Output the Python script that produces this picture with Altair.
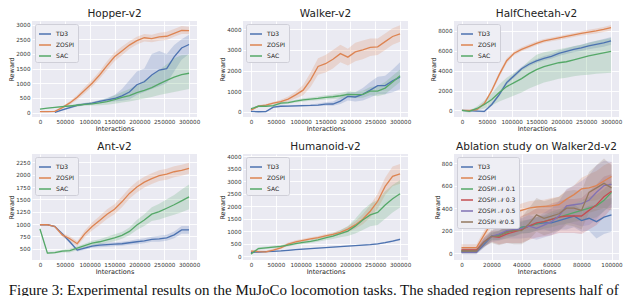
import altair as alt
import pandas as pd

FONT = "DejaVu Sans"
BLUE, ORANGE, GREEN, RED, PURPLE, BROWN = "#4C72B0", "#DD8452", "#55A868", "#C44E52", "#8172B3", "#937860"

X300 = [0, 15000, 30000, 45000, 60000, 75000, 90000, 105000, 120000, 135000, 150000,
        165000, 180000, 195000, 210000, 225000, 240000, 255000, 270000, 285000, 300000]
X100 = [0, 5000, 10000, 15000, 20000, 25000, 30000, 35000, 40000, 45000, 50000,
        55000, 60000, 65000, 70000, 75000, 80000, 85000, 90000, 95000, 100000]

# ---------------- Hopper-v2 ----------------
hopper_td3 = [None, None, 10, 90, 170, 250, 290, 320, 380, 430, 480, 570, 700, 950, 1050, 1280, 1450, 1500, 1900, 2200, 2320]
hopper_td3_lo = [None, None, 0, 60, 130, 210, 250, 280, 330, 360, 380, 400, 450, 600, 700, 800, 900, 1000, 1400, 1800, 2000]
hopper_td3_hi = [None, None, 20, 120, 210, 290, 330, 360, 430, 500, 600, 800, 1100, 1400, 1500, 2000, 2100, 2000, 2300, 2500, 2650]
hopper_zospi = [30, 30, 40, 170, 330, 520, 760, 1000, 1280, 1600, 1900, 2100, 2300, 2450, 2550, 2520, 2580, 2600, 2700, 2800, 2790]
hopper_zospi_lo = [10, 10, 20, 130, 270, 440, 650, 880, 1150, 1450, 1750, 1950, 2170, 2320, 2420, 2400, 2450, 2470, 2580, 2680, 2680]
hopper_zospi_hi = [50, 50, 60, 210, 390, 600, 870, 1120, 1410, 1750, 2050, 2250, 2430, 2580, 2680, 2650, 2720, 2750, 2850, 2950, 2920]
hopper_sac = [120, 150, 175, 200, 225, 250, 280, 300, 330, 370, 440, 520, 580, 680, 760, 850, 980, 1100, 1210, 1290, 1340]
hopper_sac_lo = [110, 140, 160, 170, 190, 210, 230, 240, 250, 270, 300, 340, 380, 430, 480, 530, 600, 650, 700, 750, 800]
hopper_sac_hi = [130, 160, 190, 230, 260, 290, 330, 360, 410, 480, 580, 700, 800, 950, 1100, 1250, 1450, 1650, 1850, 1950, 1970]

# ---------------- Walker-v2 ----------------
walker_td3 = [20, 5, 10, 230, 270, 280, 290, 300, 310, 330, 370, 380, 520, 750, 720, 850, 1050, 1270, 1270, 1500, 1680]
walker_td3_lo = [0, 0, 0, 180, 230, 240, 250, 260, 270, 280, 300, 290, 380, 550, 500, 550, 700, 850, 850, 950, 1100]
walker_td3_hi = [40, 20, 30, 280, 310, 320, 330, 340, 360, 400, 470, 500, 700, 950, 950, 1150, 1450, 1700, 1750, 2050, 2400]
walker_zospi = [80, 280, 330, 420, 500, 620, 820, 1050, 1550, 2200, 2330, 2550, 2820, 2650, 2900, 3000, 3120, 3150, 3400, 3650, 3780]
walker_zospi_lo = [50, 230, 280, 360, 420, 500, 650, 800, 1200, 1800, 1900, 2100, 2400, 2250, 2450, 2550, 2700, 2750, 3000, 3250, 3400]
walker_zospi_hi = [110, 330, 380, 480, 580, 740, 990, 1300, 1900, 2600, 2750, 3000, 3250, 3050, 3350, 3450, 3550, 3550, 3800, 4050, 4200]
walker_sac = [150, 270, 270, 300, 420, 450, 520, 580, 620, 650, 700, 730, 780, 850, 830, 850, 1000, 1000, 1150, 1450, 1750]
walker_sac_lo = [100, 220, 230, 250, 360, 390, 450, 500, 540, 560, 600, 620, 650, 700, 670, 680, 800, 750, 850, 1150, 1450]
walker_sac_hi = [200, 320, 310, 350, 480, 510, 590, 660, 700, 740, 800, 840, 910, 1000, 990, 1020, 1200, 1250, 1450, 1750, 2050]

# ---------------- HalfCheetah-v2 ----------------
cheetah_td3 = [0, -20, -60, -100, 600, 1600, 2800, 3500, 4200, 4650, 4980, 5250, 5450, 5750, 5950, 6150, 6300, 6500, 6650, 6800, 7000]
cheetah_td3_sd = [50, 50, 80, 100, 150, 200, 200, 200, 200, 200, 200, 220, 240, 260, 280, 300, 320, 340, 360, 380, 400]
cheetah_zospi = [0, 0, 80, 700, 2000, 3600, 5000, 5750, 6150, 6450, 6750, 7000, 7150, 7300, 7450, 7600, 7750, 7880, 8000, 8150, 8330]
cheetah_zospi_sd = [50, 50, 80, 150, 200, 250, 250, 200, 200, 200, 200, 200, 200, 200, 200, 200, 220, 250, 250, 250, 280]
cheetah_sac = [0, -100, 200, 600, 1100, 1800, 2400, 2800, 3200, 3700, 4100, 4400, 4600, 4800, 4900, 5100, 5300, 5500, 5650, 5800, 5950]
cheetah_sac_lo = [-100, -200, 0, 200, 500, 900, 1200, 1500, 1800, 2200, 2500, 2800, 3000, 3200, 3300, 3450, 3550, 3600, 3700, 3750, 3800]
cheetah_sac_hi = [100, 0, 400, 1000, 1700, 2600, 3300, 3800, 4300, 5000, 5600, 5850, 6000, 6150, 6300, 6450, 6600, 6800, 7000, 7150, 7300]

# ---------------- Ant-v2 ----------------
ant_td3 = [985, 985, 950, 800, 640, 470, 510, 550, 570, 580, 590, 600, 620, 640, 660, 690, 700, 720, 780, 880, 880]
ant_td3_sd = [10, 10, 20, 30, 30, 30, 30, 30, 40, 40, 40, 40, 40, 50, 50, 50, 60, 60, 70, 80, 80]
ant_zospi = [985, 985, 950, 780, 700, 600, 800, 950, 1070, 1200, 1300, 1450, 1620, 1750, 1850, 1920, 1980, 2010, 2060, 2090, 2130]
ant_zospi_sd = [10, 10, 20, 40, 50, 50, 70, 80, 90, 100, 100, 110, 110, 110, 110, 110, 110, 110, 110, 110, 110]
ant_sac = [900, 410, 420, 450, 460, 510, 560, 610, 640, 680, 720, 770, 850, 980, 1080, 1200, 1250, 1320, 1390, 1470, 1550]
ant_sac_sd = [30, 20, 20, 30, 40, 40, 40, 50, 50, 60, 70, 70, 80, 100, 120, 140, 160, 180, 200, 230, 250]

# ---------------- Humanoid-v2 ----------------
hum_td3 = [150, 160, 175, 190, 205, 230, 260, 280, 300, 320, 340, 360, 380, 400, 420, 440, 460, 490, 540, 600, 670]
hum_td3_sd = [20, 20, 20, 20, 20, 20, 20, 20, 20, 20, 20, 20, 20, 20, 20, 20, 20, 25, 30, 35, 40]
hum_zospi = [200, 180, 170, 240, 330, 480, 570, 630, 690, 740, 810, 870, 950, 1080, 1250, 1480, 1800, 2200, 2800, 3200, 3300]
hum_zospi_sd = [50, 50, 50, 50, 50, 60, 60, 60, 60, 60, 70, 80, 90, 120, 150, 200, 250, 300, 350, 400, 400]
hum_sac = [80, 300, 330, 360, 390, 440, 500, 550, 590, 650, 730, 800, 900, 1000, 1200, 1450, 1650, 1750, 2050, 2300, 2500]
hum_sac_sd = [50, 50, 50, 50, 50, 60, 60, 70, 70, 80, 100, 120, 150, 200, 300, 400, 450, 500, 550, 550, 550]

# ---------------- Ablation study on Walker2d-v2 ----------------
abl_td3 = [10, 10, 10, 80, 150, 160, 190, 200, 230, 240, 260, 270, 270, 290, 310, 330, 290, 310, 280, 320, 340]
abl_td3_sd = [10, 10, 10, 30, 30, 40, 40, 50, 50, 60, 60, 60, 80, 80, 100, 100, 100, 110, 150, 150, 150]
abl_zospi = [50, 50, 50, 160, 270, 310, 340, 360, 380, 400, 410, 415, 420, 430, 480, 520, 570, 580, 600, 640, 680]
abl_zospi_sd = [30, 30, 30, 40, 40, 50, 50, 50, 60, 60, 60, 60, 70, 70, 80, 80, 100, 120, 130, 140, 130]
abl_n01 = [20, 20, 20, 90, 150, 160, 180, 210, 230, 240, 260, 280, 300, 320, 340, 360, 380, 400, 420, 470, 540]
abl_n01_sd = [20, 20, 20, 30, 40, 40, 50, 60, 60, 60, 60, 60, 70, 70, 80, 80, 90, 100, 100, 100, 100]
abl_n03 = [30, 30, 30, 100, 150, 140, 170, 190, 210, 240, 270, 280, 300, 320, 330, 330, 330, 380, 430, 500, 550]
abl_n03_sd = [20, 20, 20, 40, 50, 60, 80, 100, 120, 120, 130, 130, 140, 140, 150, 150, 160, 170, 180, 180, 150]
abl_n05 = [10, 10, 10, 90, 150, 170, 200, 210, 220, 240, 220, 250, 280, 330, 420, 430, 440, 470, 540, 600, 610]
abl_n05_sd = [20, 20, 20, 40, 50, 60, 70, 80, 90, 100, 100, 110, 120, 130, 150, 170, 200, 220, 240, 220, 200]
abl_u05 = [20, 20, 20, 100, 150, 150, 190, 200, 200, 260, 340, 310, 330, 350, 400, 400, 380, 540, 580, 620, 580]
abl_u05_sd = [20, 20, 20, 40, 60, 80, 100, 120, 120, 140, 150, 150, 150, 150, 150, 160, 170, 180, 200, 220, 200]

MAIN_NAMES = ["TD3", "ZOSPI", "SAC"]
MAIN_COLORS = [BLUE, ORANGE, GREEN]
ABL_NAMES = ["TD3", "ZOSPI", "ZOSPI 𝒩 0.1", "ZOSPI 𝒩 0.3", "ZOSPI 𝒩 0.5", "ZOSPI 𝒰 0.5"]
ABL_COLORS = [BLUE, ORANGE, GREEN, RED, PURPLE, BROWN]

CAPTION = "Figure 3: Experimental results on the MuJoCo locomotion tasks. The shaded region represents half of"


def with_sd(y, sd):
    lo = [None if v is None else v - d for v, d in zip(y, sd)]
    hi = [None if v is None else v + d for v, d in zip(y, sd)]
    return y, lo, hi


def frame(xs, series):
    rows = []
    for name, (y, lo, hi) in series:
        for x, a, b, c in zip(xs, y, lo, hi):
            if a is None:
                continue
            rows.append({"x": x, "y": a, "lo": b, "hi": c, "s": name})
    return pd.DataFrame(rows)


def panel(title, df, names, colors, xdom, xticks, ydom, yticks, height, width=165):
    xs = alt.Scale(domain=xdom, nice=False, zero=False)
    ys = alt.Scale(domain=ydom, nice=False, zero=False)
    xaxis = alt.Axis(values=xticks, format="d", title="Interactions", labelOverlap=False)
    yaxis = alt.Axis(values=yticks, format="d", title="Reward", labelOverlap=False)
    base = alt.Chart(df)
    layers = []
    for name, col in zip(names, colors):
        layers.append(
            base.transform_filter(alt.FieldEqualPredicate(field="s", equal=name))
            .mark_area(color=col, opacity=0.22, clip=True)
            .encode(
                x=alt.X("x:Q", scale=xs, axis=xaxis),
                y=alt.Y("lo:Q", scale=ys, axis=yaxis),
                y2="hi:Q",
            )
        )
    line = base.mark_line(strokeWidth=1.3, clip=True).encode(
        x=alt.X("x:Q", scale=xs, axis=xaxis),
        y=alt.Y("y:Q", scale=ys, axis=yaxis),
        color=alt.Color(
            "s:N",
            scale=alt.Scale(domain=names, range=colors),
            legend=alt.Legend(
                orient="top-left", title=None, symbolType="stroke", symbolStrokeWidth=1.5,
                symbolSize=144, labelFontSize=6, labelFont=FONT, labelColor="#222",
                fillColor="#EEEEF4", strokeColor="#CFCFD8", padding=3, offset=3,
                rowPadding=1, labelOffset=4, cornerRadius=2,
            ),
        ),
    )
    layers.append(line)
    return alt.layer(*layers).properties(
        width=width, height=height,
        title=alt.TitleParams(title, fontSize=10.5, font=FONT, fontWeight="normal", color="#222", offset=2),
    )


hopper = frame(X300, [("TD3", (hopper_td3, hopper_td3_lo, hopper_td3_hi)),
                      ("ZOSPI", (hopper_zospi, hopper_zospi_lo, hopper_zospi_hi)),
                      ("SAC", (hopper_sac, hopper_sac_lo, hopper_sac_hi))])
walker = frame(X300, [("TD3", (walker_td3, walker_td3_lo, walker_td3_hi)),
                      ("ZOSPI", (walker_zospi, walker_zospi_lo, walker_zospi_hi)),
                      ("SAC", (walker_sac, walker_sac_lo, walker_sac_hi))])
cheetah = frame(X300, [("TD3", with_sd(cheetah_td3, cheetah_td3_sd)),
                       ("ZOSPI", with_sd(cheetah_zospi, cheetah_zospi_sd)),
                       ("SAC", (cheetah_sac, cheetah_sac_lo, cheetah_sac_hi))])
ant = frame(X300, [("TD3", with_sd(ant_td3, ant_td3_sd)),
                   ("ZOSPI", with_sd(ant_zospi, ant_zospi_sd)),
                   ("SAC", with_sd(ant_sac, ant_sac_sd))])
hum = frame(X300, [("TD3", with_sd(hum_td3, hum_td3_sd)),
                   ("ZOSPI", with_sd(hum_zospi, hum_zospi_sd)),
                   ("SAC", with_sd(hum_sac, hum_sac_sd))])
abl = frame(X100, [("TD3", with_sd(abl_td3, abl_td3_sd)),
                   ("ZOSPI", with_sd(abl_zospi, abl_zospi_sd)),
                   ("ZOSPI 𝒩 0.1", with_sd(abl_n01, abl_n01_sd)),
                   ("ZOSPI 𝒩 0.3", with_sd(abl_n03, abl_n03_sd)),
                   ("ZOSPI 𝒩 0.5", with_sd(abl_n05, abl_n05_sd)),
                   ("ZOSPI 𝒰 0.5", with_sd(abl_u05, abl_u05_sd))])

XT300 = [0, 50000, 100000, 150000, 200000, 250000, 300000]
XD300 = [-16000, 316000]
H1, H2 = 96, 106

p1 = panel("Hopper-v2", hopper, MAIN_NAMES, MAIN_COLORS, XD300, XT300, [-150, 3120], [0, 500, 1000, 1500, 2000, 2500, 3000], H1)
p2 = panel("Walker-v2", walker, MAIN_NAMES, MAIN_COLORS, XD300, XT300, [-250, 4400], [0, 1000, 2000, 3000, 4000], H1)
p3 = panel("HalfCheetah-v2", cheetah, MAIN_NAMES, MAIN_COLORS, XD300, XT300, [-660, 9000], [0, 2000, 4000, 6000, 8000], H1)
p4 = panel("Ant-v2", ant, MAIN_NAMES, MAIN_COLORS, XD300, XT300, [270, 2420], [500, 750, 1000, 1250, 1500, 1750, 2000, 2250], H2)
p5 = panel("Humanoid-v2", hum, MAIN_NAMES, MAIN_COLORS, XD300, XT300, [-160, 4100], [0, 500, 1000, 1500, 2000, 2500, 3000, 3500, 4000], H2)
p6 = panel("Ablation study on Walker2d-v2", abl, ABL_NAMES, ABL_COLORS, [-5000, 105000],
           [0, 20000, 40000, 60000, 80000, 100000], [-60, 880], [0, 200, 400, 600, 800], H2)

chart = alt.concat(p1, p2, p3, p4, p5, p6, columns=3).properties(
    spacing={"row": 37, "column": 46},
    bounds="flush",
    padding={"left": 0, "top": 0, "right": 0, "bottom": 0},
    title=alt.TitleParams(CAPTION, orient="bottom", anchor="start", font="Liberation Serif",
                          fontSize=15, fontWeight="normal", color="#111", offset=8),
).resolve_scale(
    x="independent", y="independent", color="independent"
).resolve_legend(
    color="independent"
).configure_view(
    fill="#EAEAF2", stroke=None
).configure_axis(
    domain=False, ticks=False, grid=True, gridColor="white", gridWidth=0.9,
    labelFont=FONT, labelFontSize=5.6, labelColor="#333", labelPadding=2,
    titleFont=FONT, titleFontSize=6.5, titleFontWeight="normal", titleColor="#222", titlePadding=1,
)

chart.save("out.html", embed_options={"renderer": "svg", "actions": False})
